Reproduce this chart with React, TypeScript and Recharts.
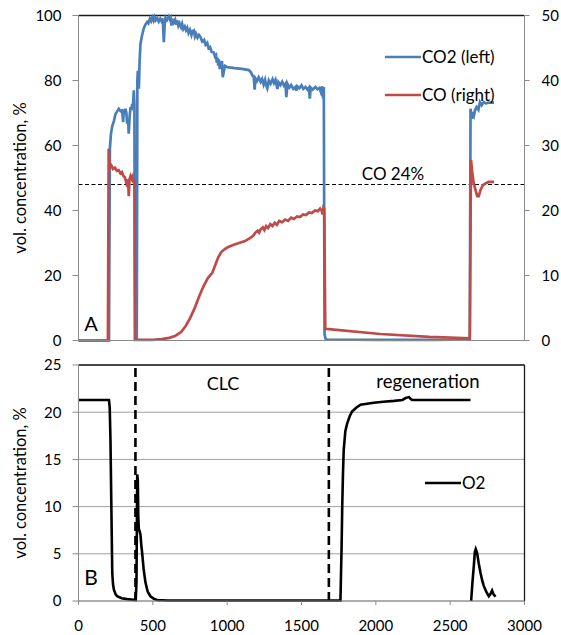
import React from 'react';
import { LineChart, Line, XAxis, YAxis, CartesianGrid, ReferenceLine, Legend } from 'recharts';

const FONT = 'Lato, "Liberation Sans", sans-serif';
const BLUE = '#4A7EBB';
const RED = '#BE4B48';
const GRID = '#a0a0a0';
const AXIS = '#8a8a8a';

const xTicks = [0, 500, 1000, 1500, 2000, 2500, 3000];
const leftTicksA = [0, 20, 40, 60, 80, 100];
const rightTicksA = [0, 10, 20, 30, 40, 50];
const ticksB = [0, 5, 10, 15, 20, 25];

// CO2, vol.% (left axis) — [time, value]
const co2: [number, number][] = [
  [0, 0], [205, 0], [211, 59], [218, 63.5], [227, 66], [238, 67.5], [249, 69.7], [260, 70.5], [271, 71.3],
  [283, 70.6], [294, 70.8], [300, 67.2], [305, 71], [311, 69.5], [316, 71.3], [322, 70], [327, 66.7],
  [333, 68.5], [338, 63.6], [344, 69], [350, 71.8], [356, 70.8], [361, 72.8], [366, 71.5], [372, 77],
  [376, 72.5], [380, 0.5], [392, 0.5], [396, 80], [399, 83], [403, 79], [406, 77.5], [411, 86], [417, 91.3],
  [428, 94], [439, 96], [450, 97.2], [462, 98], [470, 97.6], [480, 99], [488, 98.3], [496, 99.4], [505, 98.4],
  [512, 99.5], [520, 98.6], [529, 99.2], [540, 98.1], [550, 99], [558, 98.3], [563, 99.2], [568, 97.5],
  [574, 91.8], [580, 97.5], [585, 99.3], [595, 98.6], [607, 99.7], [615, 98.8], [620, 99.2], [625, 96.9],
  [630, 99], [640, 97.8], [650, 98.7], [657, 97.2], [664, 98.5], [672, 96.8], [680, 97.6], [690, 96.4],
  [697, 97.4], [705, 95.8], [715, 96.6], [723, 95.5], [731, 96.2], [740, 94.6], [750, 95.6], [760, 94],
  [768, 95.2], [776, 95.4], [783, 93.6], [790, 94.4], [800, 93.2], [810, 94], [820, 93.4], [832, 92],
  [845, 92.5], [855, 91], [866, 91.6], [875, 90], [885, 90.3], [895, 88.8], [910, 88.6], [918, 87.4],
  [925, 87.8], [930, 85.5], [935, 87], [940, 84.6], [944, 86.5], [950, 83.5], [955, 85.5], [960, 84],
  [965, 86], [970, 81], [977, 82.6], [985, 84.5], [1000, 84.1], [1050, 83.8], [1100, 83.6], [1146, 83.2],
  [1160, 82.5], [1170, 81.5], [1179, 81], [1185, 77.2], [1190, 80.6], [1200, 79.8], [1212, 81], [1225, 79.6],
  [1235, 80.5], [1245, 78.8], [1255, 80.2], [1262, 78.6], [1270, 77.6], [1280, 80], [1292, 79], [1305, 80.4],
  [1315, 79.2], [1325, 80.2], [1332, 78.6], [1338, 77.4], [1345, 79.5], [1358, 78.6], [1370, 79.6],
  [1382, 78.4], [1392, 79], [1398, 74.9], [1405, 79], [1418, 77.8], [1430, 78.6], [1445, 77.4], [1459, 78],
  [1465, 76.9], [1472, 78.2], [1485, 77.6], [1500, 78.5], [1512, 77.4], [1527, 78], [1540, 77.2],
  [1550, 77.8], [1556, 74.4], [1562, 77.8], [1575, 77.2], [1594, 78], [1607, 77.3], [1620, 77.7],
  [1630, 76.5], [1639, 78.2], [1645, 74.5], [1650, 78], [1655, 2], [1662, 0.5], [1670, 0.3], [2000, 0.2],
  [2400, 0.2], [2632, 0.3], [2637, 71.3], [2645, 68.2], [2652, 70.3], [2660, 69.2], [2668, 71], [2678, 71.8],
  [2690, 71], [2700, 73.3], [2712, 72.4], [2725, 73.3], [2740, 73], [2760, 73.2], [2780, 73.2], [2795, 73.2],
];

// CO, vol.% (right axis) — [time, value]
const co: [number, number][] = [
  [0, 0], [198, 0], [203, 29.5], [208, 27.5], [213, 26.6], [222, 26.9], [232, 26.4], [245, 26.6], [258, 26.1],
  [270, 26.2], [282, 25.7], [292, 25.9], [302, 25.3], [312, 25.1], [320, 24.4], [326, 24.8], [330, 23.6],
  [334, 24.6], [338, 22.2], [343, 24.8], [350, 25.3], [357, 24.9], [363, 25.2], [368, 24.3], [373, 24.8],
  [377, 24.3], [381, 0.1], [500, 0.1], [560, 0.2], [610, 0.4], [650, 0.7], [690, 1.3], [720, 2.2], [750, 3.4],
  [780, 4.9], [810, 6.7], [840, 8.3], [870, 9.6], [900, 10.4], [920, 11.6], [940, 12.8], [960, 13.6],
  [980, 14.0], [1000, 14.3], [1040, 14.7], [1080, 15.0], [1120, 15.3], [1150, 15.7], [1175, 16.1],
  [1190, 16.6], [1205, 16.9], [1215, 16.6], [1225, 17.1], [1240, 17.4], [1250, 17.0], [1262, 17.6],
  [1275, 17.3], [1290, 17.9], [1305, 17.6], [1320, 18.1], [1335, 17.8], [1350, 18.4], [1370, 18.2],
  [1390, 18.6], [1410, 18.4], [1430, 18.9], [1450, 18.7], [1470, 19.1], [1490, 19.0], [1510, 19.4],
  [1530, 19.3], [1550, 19.7], [1570, 19.6], [1590, 20.0], [1610, 19.9], [1625, 20.3], [1635, 20.0],
  [1642, 19.4], [1648, 20.4], [1653, 20.2], [1660, 1.8], [1700, 1.7], [2030, 1.0], [2360, 0.55],
  [2632, 0.35], [2640, 27.8], [2648, 26], [2658, 24.2], [2670, 23.2], [2682, 22.2], [2692, 22.2],
  [2705, 23.2], [2720, 23.9], [2740, 24.2], [2760, 24.4], [2795, 24.4],
];

// O2, vol.% — first run (combustion + regeneration)
const o2Run1: [number, number][] = [
  [0, 21.3], [205, 21.3], [210, 20.5], [215, 17.1], [221, 10], [227, 3.0], [232, 1.8], [238, 1.2], [250, 0.7],
  [260, 0.5], [290, 0.3], [327, 0.2], [385, 0.1], [390, 2], [395, 13.4], [399, 12.8], [402, 9], [406, 7.6],
  [411, 7.4], [417, 7.0], [422, 6], [428, 5.1], [438, 3.4], [450, 2.0], [465, 1.0], [484, 0.5], [505, 0.25],
  [529, 0.1], [600, 0.05], [1762, 0.05], [1770, 6], [1774, 10], [1779, 13.5], [1784, 16], [1795, 18],
  [1807, 18.8], [1825, 19.6], [1841, 20.1], [1870, 20.5], [1897, 20.8], [1940, 20.9], [1986, 21.0],
  [2050, 21.1], [2123, 21.2], [2179, 21.3], [2200, 21.5], [2224, 21.6], [2235, 21.4], [2244, 21.3],
  [2368, 21.3], [2637, 21.3],
];

// O2, vol.% — second run
const o2Run2: [number, number][] = [
  [2641, 0], [2650, 2], [2659, 3.7], [2666, 5.2], [2672, 5.5], [2681, 5.1], [2692, 4.0], [2704, 3.0],
  [2715, 2.2], [2726, 1.6], [2745, 0.9], [2760, 0.5], [2770, 0.7], [2782, 1.1], [2792, 0.7], [2805, 0.45],
];

const coLimit = 24; // CO 24 % (right axis)
const phaseBounds = [383, 1684]; // CLC start, regeneration start

const rows = (p: [number, number][]) => p.map(([t, v]) => ({ t, v }));

const tickStyle = { fill: '#000', fontSize: 15, fontFamily: FONT };
const yLabel = {
  value: 'vol. concentration, %',
  angle: -90,
  position: 'insideLeft' as const,
  offset: 20,
  style: { textAnchor: 'middle', fontSize: 16.5, fontFamily: FONT, fill: '#000' },
};

const legendContent = (items: { name: string; color: string }[]) => () => (
  <svg width={130} height={items.length * 38} style={{ display: 'block', overflow: 'visible' }}>
    {items.map((it, i) => (
      <g key={it.name}>
        <line x1={0} x2={36} y1={10 + i * 38} y2={10 + i * 38} stroke={it.color} strokeWidth={2.7} />
        <text x={37} y={10 + i * 38} dy="0.36em" fontSize={17} fontFamily={FONT} fill="#000">
          {it.name}
        </text>
      </g>
    ))}
  </svg>
);

const topMargin = { top: 15.5, right: 0, bottom: 14.5, left: 0.5 };

export default function App() {
  return (
    <div style={{ position: 'absolute', left: 0, top: 0, width: 561, height: 635, background: '#fff', fontFamily: FONT }}>
      <div style={{ position: 'absolute', left: 0, top: 0 }}>
        <LineChart width={561} height={360} margin={topMargin}>
          <XAxis
            dataKey="t"
            type="number"
            domain={[0, 3000]}
            ticks={xTicks}
            interval={0}
            tick={false}
            height={5}
            tickSize={4}
            axisLine={{ stroke: AXIS }}
            tickLine={{ stroke: AXIS }}
          />
          <YAxis
            yAxisId="left"
            domain={[0, 100]}
            ticks={leftTicksA}
            interval={0}
            width={78}
            tickSize={6}
            tickMargin={11}
            tick={tickStyle}
            axisLine={{ stroke: AXIS }}
            tickLine={{ stroke: AXIS }}
            label={yLabel}
          />
          <YAxis
            yAxisId="right"
            orientation="right"
            domain={[0, 50]}
            ticks={rightTicksA}
            interval={0}
            width={36.5}
            tickSize={5}
            tickMargin={12}
            tick={tickStyle}
            axisLine={{ stroke: AXIS }}
            tickLine={{ stroke: AXIS }}
          />
          <ReferenceLine yAxisId="left" y={100} stroke="#1a1a1a" strokeWidth={1.3} />
          <ReferenceLine yAxisId="right" y={coLimit} stroke="#000" strokeWidth={1} strokeDasharray="4 2.5" />
          <Line
            data={rows(co2)}
            yAxisId="left"
            dataKey="v"
            name="CO2 (left)"
            stroke={BLUE}
            strokeWidth={2.7}
            dot={false}
            isAnimationActive={false}
          />
          <Line
            data={rows(co)}
            yAxisId="right"
            dataKey="v"
            name="CO (right)"
            stroke={RED}
            strokeWidth={2.7}
            dot={false}
            isAnimationActive={false}
          />
          <Legend
            layout="vertical"
            align="center"
            verticalAlign="middle"
            wrapperStyle={{ left: 385, top: 47, width: 130 }}
            content={legendContent([
              { name: 'CO2 (left)', color: BLUE },
              { name: 'CO (right)', color: RED },
            ])}
          />
        </LineChart>
      </div>

      {/* gridline layer for panel A, same geometry and scales as panel A */}
      <div style={{ position: 'absolute', left: 0, top: 0, pointerEvents: 'none' }}>
        <LineChart width={561} height={360} margin={topMargin}>
          <XAxis dataKey="t" type="number" domain={[0, 3000]} ticks={xTicks} tick={false} height={5} axisLine={false} tickLine={false} />
          <YAxis yAxisId="left" domain={[0, 100]} ticks={leftTicksA} width={78} tick={false} axisLine={false} tickLine={false} />
          <YAxis yAxisId="right" orientation="right" domain={[0, 50]} ticks={rightTicksA} width={36.5} tick={false} axisLine={false} tickLine={false} />
          {leftTicksA.slice(1, -1).map((v) => (
            <ReferenceLine key={`grid-${v}`} yAxisId="left" y={v} stroke={GRID} strokeWidth={1} />
          ))}
        </LineChart>
      </div>

      <div style={{ position: 'absolute', left: 0, top: 345 }}>
        <LineChart width={561} height={290} margin={{ top: 20, right: 36.5, bottom: 0, left: 0.5 }}>
          <CartesianGrid vertical={false} stroke={GRID} />
          <XAxis
            dataKey="t"
            type="number"
            domain={[0, 3000]}
            ticks={xTicks}
            interval={0}
            height={34}
            tickSize={4}
            tickMargin={15}
            tick={tickStyle}
            axisLine={{ stroke: AXIS }}
            tickLine={{ stroke: AXIS }}
          />
          <YAxis
            domain={[0, 25]}
            ticks={ticksB}
            interval={0}
            width={78}
            tickSize={6}
            tickMargin={11}
            tick={tickStyle}
            axisLine={{ stroke: AXIS }}
            tickLine={{ stroke: AXIS }}
            label={yLabel}
          />
          <ReferenceLine y={25} stroke="#1a1a1a" strokeWidth={1.3} />
          <ReferenceLine x={3000} stroke="#1a1a1a" strokeWidth={1.3} />
          {phaseBounds.map((x) => (
            <ReferenceLine key={x} x={x} stroke="#000" strokeWidth={2.6} strokeDasharray="9 5" />
          ))}
          <Line
            data={rows(o2Run1)}
            dataKey="v"
            name="O2"
            stroke="#000"
            strokeWidth={2.6}
            dot={false}
            isAnimationActive={false}
          />
          <Line
            data={rows(o2Run2)}
            dataKey="v"
            name="O2 "
            stroke="#000"
            strokeWidth={2.6}
            dot={false}
            isAnimationActive={false}
            legendType="none"
          />
          <Legend
            layout="vertical"
            align="center"
            verticalAlign="middle"
            wrapperStyle={{ left: 425, top: 128, width: 130 }}
            content={legendContent([{ name: 'O2', color: '#000' }])}
          />
        </LineChart>
      </div>

      <svg
        width={561}
        height={635}
        style={{ position: 'absolute', left: 0, top: 0, pointerEvents: 'none' }}
        fontFamily={FONT}
      >
        <text x={91} y={331} textAnchor="middle" fontSize={20} fill="#000">A</text>
        <text x={91} y={585} textAnchor="middle" fontSize={21} fill="#000">B</text>
        <text x={393} y={180} textAnchor="middle" fontSize={17} fill="#000">CO 24%</text>
        <text x={223} y={390} textAnchor="middle" fontSize={18} fill="#000">CLC</text>
        <text x={428} y={388} textAnchor="middle" fontSize={18.5} fill="#000">regeneration</text>
      </svg>
    </div>
  );
}
